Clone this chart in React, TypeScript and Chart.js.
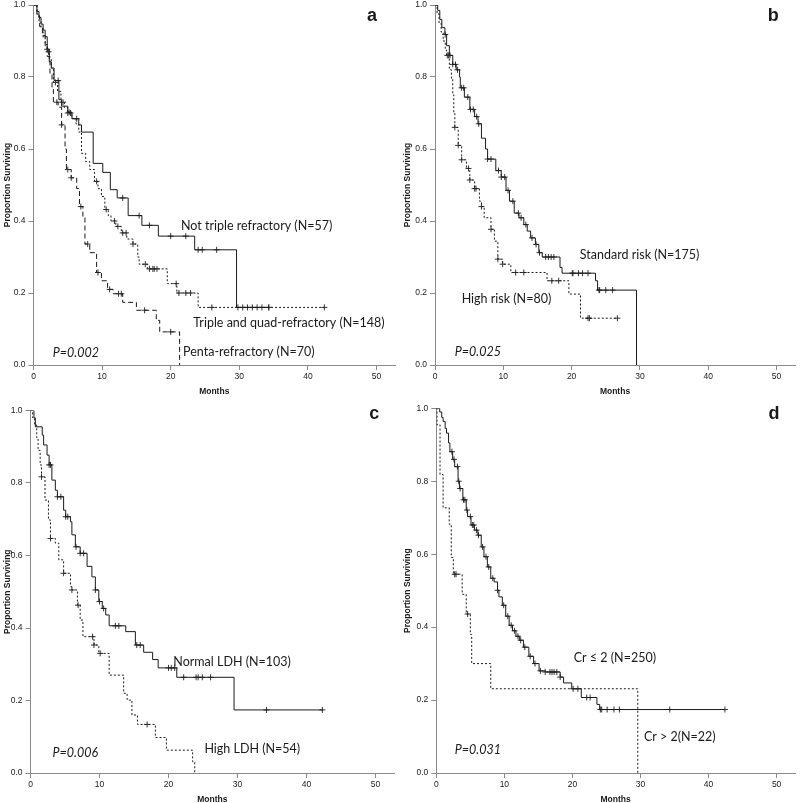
import React, { useEffect, useRef } from 'react';
import { Chart, registerables } from 'chart.js';

Chart.register(...registerables);

// ---------- axis ticks ----------
const X_TICKS = [0, 10, 20, 30, 40, 50];
const Y_TICKS = [0, 0.2, 0.4, 0.6, 0.8, 1.0];
const X_MAX = 52.7;

// ---------- panel a : refractory status ----------
const A_NOT_TRIPLE = [[0,1],[0.5,0.982],[0.8,0.965],[1.1,0.947],[1.4,0.93],[1.7,0.912],[2.0,0.877],[2.3,0.842],[2.6,0.825],[3.0,0.79],[3.7,0.737],[4.1,0.719],[5.0,0.702],[5.6,0.684],[6.6,0.667],[7.0,0.647],[8.7,0.56],[10.1,0.535],[11.2,0.487],[12.2,0.464],[13.8,0.415],[15.8,0.388],[18.2,0.358],[23.5,0.32],[29.6,0.16],[34.3,0.16]];
const A_NOT_TRIPLE_CENS = [2.0, 3.6, 5.2, 6.3, 13.0, 15.4, 16.9, 20.0, 22.2, 24.0, 24.6, 26.7, 34.3];
const A_TRIPLE_QUAD = [[0,1],[0.5,0.975],[0.8,0.955],[1.1,0.935],[1.4,0.91],[1.7,0.89],[2.0,0.87],[2.3,0.85],[2.6,0.825],[2.9,0.785],[3.5,0.76],[4.0,0.73],[4.5,0.715],[5.0,0.70],[5.6,0.685],[6.2,0.67],[6.6,0.647],[7.0,0.588],[7.6,0.565],[8.2,0.543],[8.9,0.51],[9.4,0.49],[9.9,0.468],[10.4,0.432],[10.9,0.415],[11.3,0.40],[12.0,0.385],[12.8,0.367],[13.6,0.35],[14.5,0.336],[15.2,0.30],[15.4,0.28],[16.6,0.267],[19.5,0.226],[20.9,0.20],[24.0,0.16],[42.4,0.16]];
const A_TRIPLE_QUAD_CENS = [2.2, 3.2, 4.3, 5.0, 5.4, 9.2, 10.6, 11.8, 12.3, 13.0, 13.5, 14.5, 16.3, 16.9, 17.4, 17.6, 18.0, 20.8, 21.2, 22.2, 22.9, 26.0, 29.8, 30.5, 31.2, 31.9, 32.6, 33.3, 34.3, 42.4];
const A_PENTA = [[0,1],[0.5,0.97],[0.9,0.94],[1.3,0.915],[1.7,0.886],[2.0,0.857],[2.4,0.81],[2.7,0.77],[2.9,0.73],[3.6,0.716],[4.1,0.667],[4.6,0.60],[4.8,0.543],[5.5,0.52],[6.3,0.49],[6.7,0.44],[7.2,0.41],[7.5,0.336],[8.2,0.312],[9.2,0.257],[9.9,0.234],[10.8,0.21],[11.6,0.198],[13.0,0.174],[15.0,0.152],[17.9,0.124],[18.4,0.092],[21.3,0]];
const A_PENTA_CENS = [3.4, 4.1, 5.0, 5.5, 6.9, 7.9, 9.4, 11.1, 12.4, 12.8, 16.2, 20.0];

// ---------- panel b : cytogenetic risk ----------
const B_STANDARD = [[0,1],[0.4,0.985],[0.7,0.96],[1.0,0.937],[1.45,0.918],[1.7,0.887],[2.1,0.86],[2.6,0.835],[3.1,0.82],[3.6,0.80],[3.7,0.77],[4.3,0.744],[5.1,0.71],[5.8,0.69],[6.3,0.67],[6.8,0.63],[7.4,0.60],[7.7,0.572],[8.9,0.54],[9.7,0.522],[10.4,0.485],[10.9,0.455],[11.6,0.422],[12.3,0.409],[13.0,0.39],[13.5,0.372],[14.0,0.353],[14.7,0.335],[15.2,0.312],[15.7,0.30],[18.3,0.271],[18.6,0.255],[23.5,0.234],[23.8,0.208],[29.5,0]];
const B_STANDARD_CENS = [1.5, 2.2, 2.6, 3.0, 3.3, 3.9, 4.2, 4.8, 5.2, 5.6, 6.1, 6.4, 7.7, 8.2, 9.3, 9.7, 10.2, 10.7, 11.4, 12.2, 12.6, 13.3, 14.2, 14.8, 15.3, 16.2, 16.6, 17.0, 17.4, 20.1, 20.2, 21.0, 21.6, 22.4, 24.0, 24.1, 25.0, 26.0];
const B_HIGH = [[0,1],[0.3,0.975],[0.6,0.95],[0.9,0.925],[1.2,0.9],[1.5,0.875],[1.7,0.86],[2.1,0.82],[2.4,0.794],[2.6,0.75],[2.75,0.70],[2.9,0.66],[3.4,0.61],[3.9,0.57],[4.6,0.546],[5.1,0.514],[5.8,0.49],[6.5,0.455],[6.8,0.44],[7.2,0.409],[8.2,0.377],[8.7,0.344],[9.2,0.294],[9.9,0.28],[11.1,0.257],[16.4,0.234],[19.6,0.197],[21.3,0.13],[26.7,0.13]];
const B_HIGH_CENS = [1.8, 2.0, 2.9, 3.4, 3.9, 4.9, 5.1, 5.8, 6.0, 6.8, 8.2, 9.2, 9.9, 11.8, 13.0, 17.1, 18.1, 22.4, 22.6, 26.7];

// ---------- panel c : LDH ----------
const C_NORMAL = [[0,1],[0.5,0.98],[0.7,0.955],[1.7,0.932],[1.9,0.905],[2.4,0.877],[2.7,0.85],[3.1,0.808],[3.6,0.78],[3.9,0.762],[4.8,0.725],[5.1,0.707],[5.8,0.693],[6.0,0.657],[6.5,0.624],[7.2,0.606],[8.2,0.57],[8.9,0.541],[9.4,0.505],[9.9,0.473],[10.4,0.454],[10.9,0.436],[11.4,0.406],[13.8,0.39],[15.2,0.353],[16.4,0.333],[17.7,0.313],[18.5,0.29],[21.2,0.264],[29.5,0.174],[42.4,0.174]];
const C_NORMAL_CENS = [2.7, 2.9, 3.9, 4.4, 5.1, 5.4, 6.6, 7.2, 7.7, 9.4, 10.0, 10.6, 12.3, 12.8, 15.4, 15.9, 20.0, 20.4, 20.9, 22.2, 24.0, 24.3, 24.9, 26.1, 34.2, 42.3];
const C_HIGH = [[0,1],[0.3,0.98],[0.6,0.96],[0.9,0.925],[1.1,0.89],[1.4,0.85],[1.6,0.817],[2.1,0.753],[2.6,0.698],[2.9,0.647],[3.6,0.634],[4.1,0.588],[4.8,0.551],[5.8,0.514],[6.0,0.505],[6.8,0.463],[7.2,0.422],[7.6,0.376],[9.2,0.353],[9.9,0.33],[11.4,0.27],[13.5,0.22],[14.0,0.201],[14.7,0.16],[15.5,0.134],[18.1,0.098],[19.7,0.063],[23.5,0.031],[23.8,0]];
const C_HIGH_CENS = [1.6, 2.9, 4.8, 6.0, 6.9, 9.0, 9.2, 10.1, 16.9];

// ---------- panel d : creatinine ----------
const D_LOW_CR = [[0,1],[0.5,0.99],[0.8,0.975],[1.0,0.964],[1.3,0.945],[1.5,0.932],[1.8,0.905],[2.0,0.881],[2.4,0.86],[2.7,0.84],[3.2,0.80],[3.4,0.78],[3.9,0.749],[4.4,0.721],[4.6,0.703],[5.1,0.68],[5.6,0.666],[6.1,0.652],[6.6,0.62],[7.0,0.593],[7.5,0.565],[8.0,0.534],[8.5,0.524],[9.0,0.501],[9.2,0.483],[9.7,0.46],[10.2,0.43],[10.7,0.405],[11.2,0.39],[11.7,0.375],[12.2,0.364],[12.8,0.345],[13.6,0.32],[14.3,0.30],[15.1,0.28],[16.0,0.277],[18.2,0.263],[18.7,0.247],[19.9,0.231],[21.3,0.207],[23.6,0.188],[24.0,0.174],[42.4,0.174]];
const D_LOW_CR_CENS = [2.3, 2.6, 3.1, 3.3, 3.5, 4.0, 4.2, 4.5, 5.0, 5.3, 5.5, 5.9, 6.2, 6.8, 7.3, 7.7, 8.3, 9.0, 9.9, 10.5, 11.0, 11.5, 12.0, 12.4, 13.0, 13.8, 14.5, 15.3, 16.0, 16.7, 17.0, 17.3, 17.7, 18.2, 20.1, 20.8, 22.1, 22.6, 24.1, 24.3, 25.1, 26.1, 26.9, 34.3, 42.4];
const D_HIGH_CR = [[0,1],[0.1,0.955],[0.55,0.818],[1.0,0.727],[1.9,0.682],[2.2,0.591],[2.5,0.545],[3.8,0.49],[4.4,0.436],[5.0,0.38],[5.2,0.30],[8.0,0.231],[29.6,0]];
const D_HIGH_CR_CENS = [2.7, 2.9, 4.6];

// ---------- text ----------
const A_TEXT = ['Not triple refractory (N=57)', 'Triple and quad-refractory (N=148)', 'Penta-refractory (N=70)', 'P=0.002', 'a'];
const B_TEXT = ['Standard risk (N=175)', 'High risk (N=80)', 'P=0.025', 'b'];
const C_TEXT = ['Normal LDH (N=103)', 'High LDH (N=54)', 'P=0.006', 'c'];
const D_TEXT = ['Cr \u2264 2 (N=250)', 'Cr > 2(N=22)', 'P=0.031', 'd'];

const PX_PER_MONTH = 6.9;
const PLOT_W = X_MAX * PX_PER_MONTH;
const AXIS_FONT = '"Liberation Sans", Arial, sans-serif';
const LABEL_FONT = 'Lato, "Open Sans", sans-serif';
const INK = '#1a1a1a';
const AXIS_COL = '#8a8a8a';

const SOLID: number[] = [];
const DOTTED = [2, 2];
const DASHED = [5, 3];

type Curve = { pts: number[][]; cens: number[]; dash: number[] };
type Label = { text: string; t: number; s: number; kind: 'note' | 'p' | 'letter' };
type PanelCfg = { left: number; top: number; w: number; h: number; yW: number; padT: number; curves: Curve[]; labels: Label[] };

function survAt(pts: number[][], t: number): number {
  let s = 1;
  for (const [pt, ps] of pts) {
    if (pt <= t) s = ps; else break;
  }
  return s;
}

const PANELS: PanelCfg[] = [
  {
    left: 0, top: 0, w: 400, h: 400, yW: 33.5, padT: 2,
    curves: [
      { pts: A_NOT_TRIPLE, cens: A_NOT_TRIPLE_CENS, dash: SOLID },
      { pts: A_TRIPLE_QUAD, cens: A_TRIPLE_QUAD_CENS, dash: DOTTED },
      { pts: A_PENTA, cens: A_PENTA_CENS, dash: DASHED },
    ],
    labels: [
      { text: A_TEXT[0], t: 21.5, s: 0.385, kind: 'note' },
      { text: A_TEXT[1], t: 23.3, s: 0.116, kind: 'note' },
      { text: A_TEXT[2], t: 21.8, s: 0.036, kind: 'note' },
      { text: A_TEXT[3], t: 2.8, s: 0.033, kind: 'p' },
      { text: A_TEXT[4], t: 48.6, s: 0.968, kind: 'letter' },
    ],
  },
  {
    left: 400, top: 0, w: 400, h: 400, yW: 35, padT: 2,
    curves: [
      { pts: B_STANDARD, cens: B_STANDARD_CENS, dash: SOLID },
      { pts: B_HIGH, cens: B_HIGH_CENS, dash: DOTTED },
    ],
    labels: [
      { text: B_TEXT[0], t: 21.2, s: 0.306, kind: 'note' },
      { text: B_TEXT[1], t: 3.9, s: 0.184, kind: 'note' },
      { text: B_TEXT[2], t: 2.9, s: 0.036, kind: 'p' },
      { text: B_TEXT[3], t: 48.7, s: 0.968, kind: 'letter' },
    ],
  },
  {
    left: 0, top: 400, w: 400, h: 408, yW: 30.5, padT: 10.5,
    curves: [
      { pts: C_NORMAL, cens: C_NORMAL_CENS, dash: SOLID },
      { pts: C_HIGH, cens: C_HIGH_CENS, dash: DOTTED },
    ],
    labels: [
      { text: C_TEXT[0], t: 20.7, s: 0.306, kind: 'note' },
      { text: C_TEXT[1], t: 25.2, s: 0.066, kind: 'note' },
      { text: C_TEXT[2], t: 3.2, s: 0.055, kind: 'p' },
      { text: C_TEXT[3], t: 49.1, s: 0.99, kind: 'letter' },
    ],
  },
  {
    left: 400, top: 400, w: 400, h: 408, yW: 36.3, padT: 8.3,
    curves: [
      { pts: D_LOW_CR, cens: D_LOW_CR_CENS, dash: SOLID },
      { pts: D_HIGH_CR, cens: D_HIGH_CR_CENS, dash: DOTTED },
    ],
    labels: [
      { text: D_TEXT[0], t: 20.2, s: 0.315, kind: 'note' },
      { text: D_TEXT[1], t: 30.5, s: 0.10, kind: 'note' },
      { text: D_TEXT[2], t: 2.7, s: 0.062, kind: 'p' },
      { text: D_TEXT[3], t: 48.8, s: 0.985, kind: 'letter' },
    ],
  },
];

const textPlugin = {
  id: 'kmText',
  afterDatasetsDraw(chart: any, _args: any, opts: any) {
    const { ctx } = chart;
    const xs = chart.scales.x;
    const ys = chart.scales.y;
    ctx.save();
    ctx.fillStyle = INK;
    ctx.textAlign = 'left';
    ctx.textBaseline = 'middle';
    for (const l of (opts.labels || []) as Label[]) {
      if (l.kind === 'letter') ctx.font = `bold 18px ${AXIS_FONT}`;
      else if (l.kind === 'p') ctx.font = `italic 12.5px ${LABEL_FONT}`;
      else ctx.font = `12.5px ${LABEL_FONT}`;
      ctx.fillText(l.text, xs.getPixelForValue(l.t), ys.getPixelForValue(l.s));
    }
    ctx.restore();
  },
};

function Panel({ cfg }: { cfg: PanelCfg }) {
  const ref = useRef<HTMLCanvasElement | null>(null);
  useEffect(() => {
    if (!ref.current) return;
    const datasets: any[] = [];
    for (const c of cfg.curves) {
      datasets.push({
        data: c.pts.map(([x, y]) => ({ x, y })),
        stepped: 'before',
        borderColor: INK,
        borderWidth: 1,
        borderDash: c.dash,
        pointRadius: 0,
        fill: false,
      });
      datasets.push({
        data: c.cens.map((t) => ({ x: t, y: survAt(c.pts, t) })),
        showLine: false,
        pointStyle: 'cross',
        pointRadius: 3,
        pointBorderWidth: 1,
        pointBorderColor: '#333',
        borderColor: '#333',
        backgroundColor: '#333',
      });
    }
    const chart = new Chart(ref.current, {
      type: 'line',
      data: { datasets },
      plugins: [textPlugin],
      options: {
        animation: false,
        responsive: false,
        devicePixelRatio: 1,
        layout: { padding: { left: 0, top: cfg.padT, right: cfg.w - cfg.yW - PLOT_W, bottom: 0 } },
        plugins: {
          legend: { display: false },
          tooltip: { enabled: false },
          kmText: { labels: cfg.labels },
        } as any,
        scales: {
          x: {
            type: 'linear',
            min: 0,
            max: X_MAX,
            afterBuildTicks: (s: any) => { s.ticks = X_TICKS.map((v) => ({ value: v })); },
            afterFit: (s: any) => { s.height = 35; s.paddingLeft = 0; s.paddingRight = 0; },
            ticks: { color: INK, font: { family: AXIS_FONT, size: 8.5 }, padding: 2, maxRotation: 0, autoSkip: false },
            grid: { display: true, drawOnChartArea: false, drawTicks: true, tickLength: 5, color: AXIS_COL },
            border: { display: true, color: AXIS_COL, width: 1 },
            title: { display: true, text: 'Months', color: INK, font: { family: AXIS_FONT, size: 8.5, weight: 'bold' }, padding: { top: 0, bottom: 3 } },
          },
          y: {
            type: 'linear',
            min: 0,
            max: 1,
            afterBuildTicks: (s: any) => { s.ticks = Y_TICKS.map((v) => ({ value: v })); },
            afterFit: (s: any) => { s.width = cfg.yW; s.paddingTop = 0; s.paddingBottom = 0; },
            ticks: { color: INK, font: { family: AXIS_FONT, size: 8.5 }, padding: 3, callback: (v: any) => Number(v).toFixed(1) },
            grid: { display: true, drawOnChartArea: false, drawTicks: true, tickLength: 5, color: AXIS_COL },
            border: { display: true, color: AXIS_COL, width: 1 },
            title: { display: true, text: 'Proportion Surviving', color: INK, font: { family: AXIS_FONT, size: 8.5, weight: 'bold' }, padding: { top: 3, bottom: 0 } },
          },
        },
      } as any,
    });
    return () => chart.destroy();
  }, [cfg]);
  return (
    <canvas
      ref={ref}
      width={cfg.w}
      height={cfg.h}
      style={{ position: 'absolute', left: cfg.left, top: cfg.top, width: cfg.w, height: cfg.h }}
    />
  );
}

export default function App() {
  return (
    <div style={{ position: 'fixed', left: 0, top: 0, width: 800, height: 803, background: '#fff', overflow: 'hidden' }}>
      {PANELS.map((p, i) => (
        <Panel key={i} cfg={p} />
      ))}
    </div>
  );
}
